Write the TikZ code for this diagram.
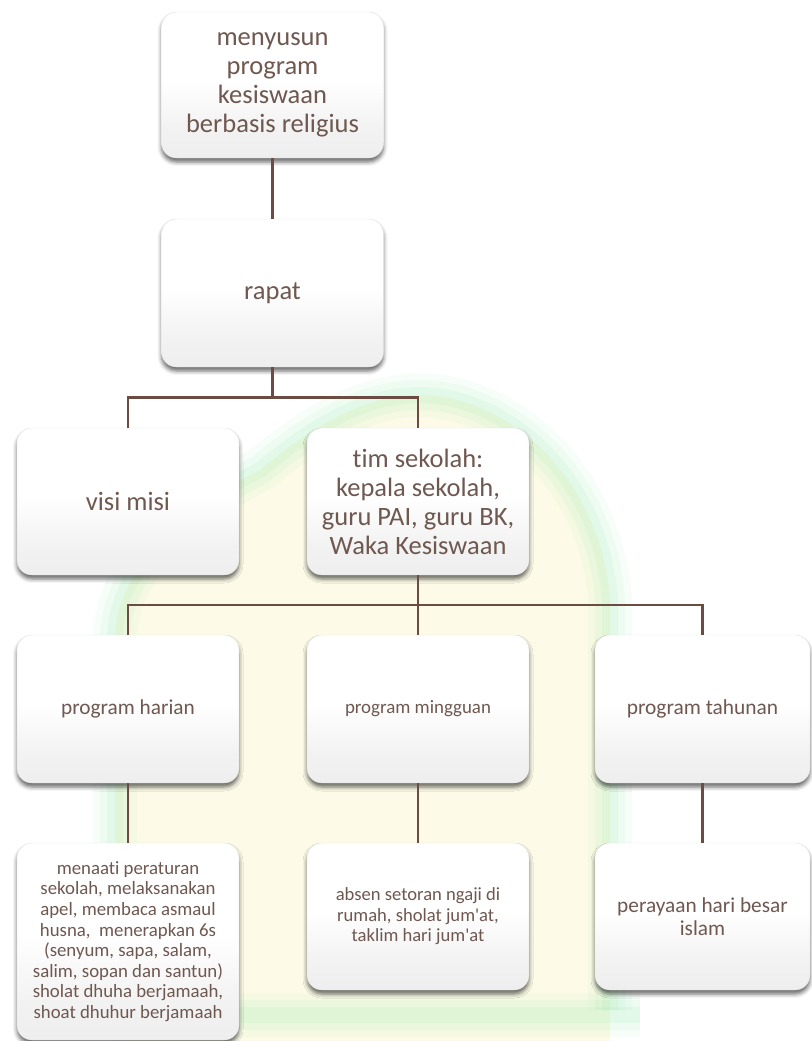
\documentclass[tikz,border=0pt]{standalone}
\usepackage{fontspec}
\setmainfont{Carlito}[Ligatures={NoCommon}]
\usetikzlibrary{calc,shadows.blur}
\definecolor{txt}{HTML}{6F5850}
\definecolor{lin}{HTML}{6B4C43}
\definecolor{wmgreen}{HTML}{8FE3A6}
\definecolor{wmyellow}{HTML}{F7F2B0}
\pgfdeclareverticalshading{boxshade}{100bp}{color(0bp)=(black!11); color(35bp)=(black!5); color(52bp)=(white); color(100bp)=(white)}
\tikzset{
  box/.style={rounded corners=15pt, shading=boxshade, draw=black!12, line width=0.4pt,
    minimum width=222pt, minimum height=147pt, align=center, text=txt, inner sep=4pt,
    blur shadow={shadow xshift=0pt, shadow yshift=-4pt, shadow blur radius=4pt, shadow opacity=60}},
  conn/.style={draw=lin, line width=2.6pt},
  big/.style={font=\fontsize{26.5}{29}\selectfont}
}
\begin{document}
\begin{tikzpicture}[x=1pt,y=-1pt]
\useasboundingbox (0,0) rectangle (811,1041);
% faint watermark
\fill[wmyellow,opacity=0.3] (115,1041) -- (115,640) .. controls (115,560) and (200,500) .. (260,470) .. controls (320,420) and (370,395) .. (420,395) .. controls (500,395) and (600,470) .. (610,600) -- (610,1041) -- cycle;
\foreach \w/\o in {44/0.07,30/0.09,16/0.12}{
\draw[wmgreen,opacity=\o,line width=\w pt] (115,1010) -- (115,640) .. controls (115,560) and (200,500) .. (260,470) .. controls (320,420) and (370,395) .. (420,395) .. controls (500,395) and (600,470) .. (610,600) -- (610,1010);
\draw[wmgreen,opacity=\o,line width=\w pt] (100,1015) -- (640,1015);
}

\node[box, minimum height=146pt, big] (top) at (272.5,85) {menyusun\\program\\kesiswaan\\berbasis religius};
\node[box, minimum height=148pt, big] (rapat) at (272.5,293) {rapat};
\node[box, big] (visi) at (128,501.5) {visi misi};
\node[box, big] (tim) at (418,501.5) {tim sekolah:\\kepala sekolah,\\guru PAI, guru BK,\\Waka Kesiswaan};
\node[box, minimum height=148pt, font=\fontsize{21.3}{23.4}\selectfont] (harian) at (128,709) {program harian};
\node[box, minimum height=148pt, font=\fontsize{18.9}{20.8}\selectfont] (mingguan) at (418,709) {program mingguan};
\node[box, minimum width=215pt, minimum height=148pt, font=\fontsize{21.4}{23.4}\selectfont] (tahunan) at (702.5,709) {program tahunan};
\node[box, minimum height=197pt, font=\fontsize{18.8}{20.6}\selectfont] (kh) at (128,941.5) {menaati peraturan\\sekolah, melaksanakan\\apel, membaca asmaul\\husna,\ \ menerapkan 6s\\(senyum, sapa, salam,\\salim, sopan dan santun)\\sholat dhuha berjamaah,\\shoat dhuhur berjamaah};
\node[box, minimum height=147pt, font=\fontsize{18.6}{20.4}\selectfont] (km) at (418,916.5) {absen setoran ngaji di\\rumah, sholat jum\textquotesingle at,\\taklim hari jum\textquotesingle at};
\node[box, minimum width=215pt, minimum height=147pt, font=\fontsize{21.3}{23.4}\selectfont] (kt) at (702.5,916.5) {perayaan hari besar\\islam};

\coordinate (j1) at ($(rapat.south)!0.5!(rapat.south |- visi.north)$);
\coordinate (j2) at ($(tim.south)!0.5!(tim.south |- harian.north)$);
\draw[conn] (top.south) -- (rapat.north);
\draw[conn] (rapat.south) -- (j1);
\draw[conn] (j1) -| (visi.north);
\draw[conn] (j1) -| (tim.north);
\draw[conn] (tim.south) -- (j2);
\draw[conn] (j2) -| (harian.north);
\draw[conn] (j2) -| (mingguan.north);
\draw[conn] (j2) -| (tahunan.north);
\draw[conn] (harian.south) -- (kh.north);
\draw[conn] (mingguan.south) -- (km.north);
\draw[conn] (tahunan.south) -- (kt.north);
\end{tikzpicture}
\end{document}
